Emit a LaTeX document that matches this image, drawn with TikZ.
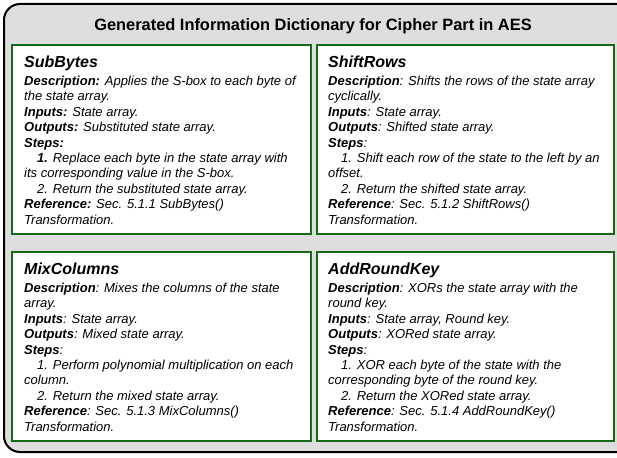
\documentclass[tikz,border=0pt]{standalone}
\usepackage{fontspec}
\setmainfont{Liberation Sans}
\definecolor{outerfill}{RGB}{222,222,222}
\definecolor{boxgreen}{RGB}{22,105,22}
\newcommand\hd[1]{{\fontsize{16}{15.4}\selectfont\bfseries\itshape #1}}
\newcommand\ind{\hspace*{13pt}}
\tikzset{
  card/.style={draw=boxgreen, line width=2pt, fill=white, minimum width=299pt, minimum height=189pt, inner sep=0pt, outer sep=0pt},
  cardtext/.style={anchor=north west, align=left, inner sep=0pt, font=\fontsize{13}{15.4}\selectfont\itshape},
}
\begin{document}
\begin{tikzpicture}[x=1pt, y=-1pt]
\clip (0,0) rectangle (617,457);
\path[fill=white] (0,0) rectangle (617,457);
\draw[line width=2pt, fill=outerfill, rounded corners=16pt] (4,4) rectangle (640,452);
\node[anchor=base, font=\fontsize{16.4}{18}\selectfont\bfseries] (title) at (313,30.5) {Generated Information Dictionary for Cipher Part in AES};

\node[card] (sb) at (161.5,139.5) {};
\node[card, minimum width=297pt] (sr) at (465.5,139.5) {};
\node[card] (mc) at (161.5,346.5) {};
\node[card, minimum width=297pt] (ark) at (465.5,346.5) {};

\node[cardtext, xshift=12pt, yshift=-10.7pt] (sbt) at (sb.north west) {\hd{SubBytes}\\[2.6pt]
\textbf{Description:} Applies the S-box to each byte of\\
the state array.\\
\textbf{Inputs:} State array.\\
\textbf{Outputs:} Substituted state array.\\
\textbf{Steps:}\\
\ind\textbf{1.} Replace each byte in the state array with\\
its corresponding value in the S-box.\\
\ind 2. Return the substituted state array.\\
\textbf{Reference:} Sec. 5.1.1 SubBytes()\\
Transformation.};

\node[cardtext, xshift=11pt, yshift=-10.7pt] (srt) at (sr.north west) {\hd{ShiftRows}\\[2.6pt]
\textbf{Description}: Shifts the rows of the state array\\
cyclically.\\
\textbf{Inputs}: State array.\\
\textbf{Outputs}: Shifted state array.\\
\textbf{Steps}:\\
\ind 1. Shift each row of the state to the left by an\\
offset.\\
\ind 2. Return the shifted state array.\\
\textbf{Reference}: Sec. 5.1.2 ShiftRows()\\
Transformation.};

\node[cardtext, xshift=12pt, yshift=-10.7pt] (mct) at (mc.north west) {\hd{MixColumns}\\[2.6pt]
\textbf{Description}: Mixes the columns of the state\\
array.\\
\textbf{Inputs}: State array.\\
\textbf{Outputs}: Mixed state array.\\
\textbf{Steps}:\\
\ind 1. Perform polynomial multiplication on each\\
column.\\
\ind 2. Return the mixed state array.\\
\textbf{Reference}: Sec. 5.1.3 MixColumns()\\
Transformation.};

\node[cardtext, xshift=11pt, yshift=-10.7pt] (arkt) at (ark.north west) {\hd{AddRoundKey}\\[2.6pt]
\textbf{Description}: XORs the state array with the\\
round key.\\
\textbf{Inputs}: State array, Round key.\\
\textbf{Outputs}: XORed state array.\\
\textbf{Steps}:\\
\ind 1. XOR each byte of the state with the\\
corresponding byte of the round key.\\
\ind 2. Return the XORed state array.\\
\textbf{Reference}: Sec. 5.1.4 AddRoundKey()\\
Transformation.};
\end{tikzpicture}
\end{document}
